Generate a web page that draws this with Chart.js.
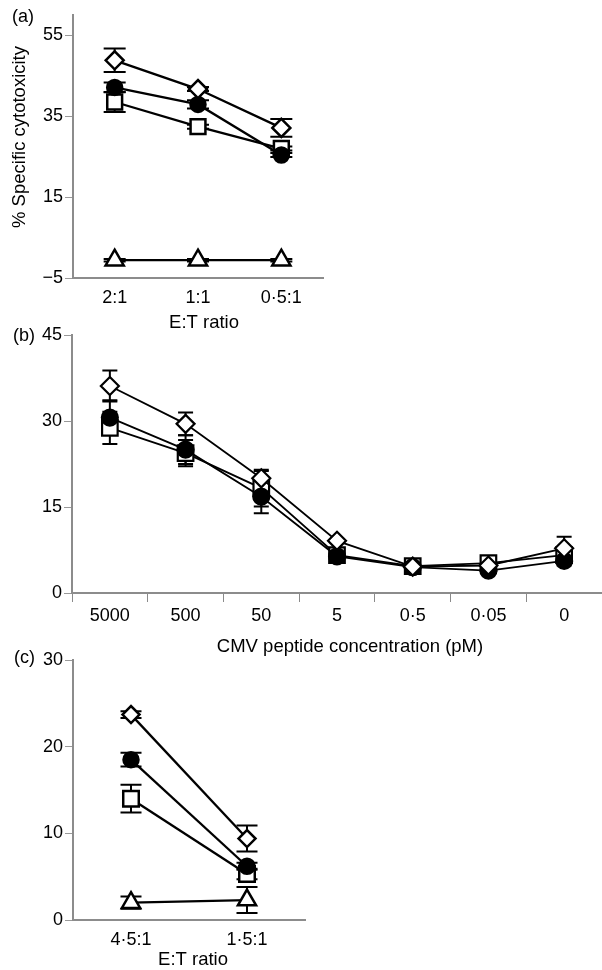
<!DOCTYPE html>
<html><head><meta charset="utf-8">
<script src="https://cdn.jsdelivr.net/npm/chart.js@4.4.1/dist/chart.umd.min.js"></script>
<style>
html,body{margin:0;padding:0;background:#fff;width:602px;height:970px;overflow:hidden;font-family:"Liberation Sans",Arial,sans-serif;}
canvas{position:absolute;}
.lab{position:absolute;font-size:18px;line-height:20px;color:#000;font-family:"Liberation Sans",Arial,sans-serif;}
</style></head><body>
<canvas id="ca" width="340" height="335" style="left:0;top:0"></canvas>
<canvas id="cb" width="602" height="345" style="left:0;top:320px"></canvas>
<canvas id="cc" width="340" height="330" style="left:0;top:640px"></canvas>
<div class="lab" style="left:12px;top:6px">(a)</div>
<div class="lab" style="left:13px;top:325px">(b)</div>
<div class="lab" style="left:14px;top:647px">(c)</div>
<script>
// ---------- Panel (a) ----------
const catsA = ['2:1', '1:1', '0·5:1'];
const yTicksA = [-5, 15, 35, 55];
const diamondA = [48.8, 41.7, 32.1];
const diamondErrA = [2.9, 0.5, 2.2];
const circleA = [42.1, 37.9, 25.4];
const circleErrA = [1.2, 1.0, 0.5];
const squareA = [38.5, 32.4, 27.0];
const squareErrA = [2.5, 0.5, 0.5];
const triangleA = [-0.6, -0.6, -0.6];
const triangleErrA = [0.3, 0.3, 0.3];

// ---------- Panel (b) ----------
const catsB = ['5000', '500', '50', '5', '0·5', '0·05', '0'];
const yTicksB = [0, 15, 30, 45];
const diamondB = [36.1, 29.5, 20.0, 9.1, 4.6, 4.8, 7.8];
const diamondErrB = [2.7, 2.0, 1.3, 0.3, 0.3, 0.3, 2.0];
const circleB = [30.6, 25.0, 16.8, 6.4, 4.5, 3.9, 5.6];
const circleErrB = [3.0, 2.5, 2.9, 0.5, 0.3, 0.3, 0.8];
const squareB = [28.8, 24.4, 18.3, 6.6, 4.7, 5.2, 6.6];
const squareErrB = [2.8, 2.3, 3.2, 0.5, 0.3, 0.3, 1.0];

// ---------- Panel (c) ----------
const catsC = ['4·5:1', '1·5:1'];
const yTicksC = [0, 10, 20, 30];
const diamondC = [23.7, 9.4];
const diamondErrC = [0.4, 1.5];
const circleC = [18.5, 6.2];
const circleErrC = [0.8, 0.4];
const squareC = [14.0, 5.3];
const squareErrC = [1.6, 0.6];
const triangleC = [2.0, 2.3];
const triangleErrC = [0.7, 1.5];

const FONT = '"Liberation Sans", Arial, sans-serif';

const errorBars = {
  id: 'errorBars',
  beforeDatasetsDraw(chart, args, opts) {
    const ctx = chart.ctx, ys = chart.scales.y;
    ctx.save();
    ctx.strokeStyle = '#000';
    ctx.lineWidth = opts.width || 2;
    chart.data.datasets.forEach((d, di) => {
      if (!d.errors) return;
      const meta = chart.getDatasetMeta(di);
      meta.data.forEach((pt, i) => {
        const e = d.errors[i];
        if (!e) return;
        const v = d.data[i];
        const y1 = ys.getPixelForValue(v + e), y2 = ys.getPixelForValue(v - e);
        const x = pt.x, c = opts.cap;
        ctx.beginPath();
        ctx.moveTo(x, y1); ctx.lineTo(x, y2);
        ctx.moveTo(x - c, y1); ctx.lineTo(x + c, y1);
        ctx.moveTo(x - c, y2); ctx.lineTo(x + c, y2);
        ctx.stroke();
      });
    });
    ctx.restore();
  }
};

const axisTitles = {
  id: 'axisTitles',
  afterDraw(chart, args, opts) {
    const ctx = chart.ctx;
    (opts.items || []).forEach(t => {
      ctx.save();
      ctx.font = t.size + 'px ' + FONT;
      ctx.fillStyle = '#000';
      ctx.textAlign = 'center';
      ctx.textBaseline = 'middle';
      ctx.translate(t.x, t.y);
      if (t.rot) ctx.rotate(t.rot);
      ctx.fillText(t.text, 0, 0);
      ctx.restore();
    });
  }
};

function ds(label, data, errors, style, radius, fill, lw, bw) {
  return {
    label, data, errors,
    pointStyle: style, pointRadius: radius, pointHoverRadius: radius,
    pointBackgroundColor: fill, pointBorderColor: '#000', pointBorderWidth: bw,
    borderColor: '#000', borderWidth: lw, fill: false, tension: 0
  };
}

const fmtTick = v => (v < 0 ? '\u2212' + Math.abs(v) : String(v));

function makeChart(id, cats, datasets, yMin, yMax, yTicks, cfg) {
  return new Chart(document.getElementById(id), {
    type: 'line',
    data: { labels: cats, datasets },
    options: {
      responsive: false, animation: false, events: [],
      layout: { padding: cfg.padding, autoPadding: false },
      plugins: {
        legend: { display: false }, tooltip: { enabled: false },
        errorBars: { cap: cfg.cap, width: 2 },
        axisTitles: { items: cfg.titles }
      },
      scales: {
        x: {
          type: 'category', offset: true,
          grid: { display: true, drawOnChartArea: false, drawTicks: cfg.xTicks, offset: true, tickLength: 9, color: '#8a8a8a', lineWidth: 1 },
          border: { display: true, color: '#8c8c8c', width: 2 },
          ticks: { font: { family: FONT, size: cfg.tickSize }, color: '#000', padding: cfg.xPad, maxRotation: 0, autoSkip: false },
          title: { display: false },
          afterFit: s => { s.height = cfg.xH; }
        },
        y: {
          min: yMin, max: yMax,
          afterBuildTicks: s => { s.ticks = yTicks.map(v => ({ value: v })); },
          grid: { display: true, drawOnChartArea: false, drawTicks: true, tickLength: 8, color: '#999', lineWidth: 1 },
          border: { display: true, color: '#8c8c8c', width: 2 },
          ticks: { font: { family: FONT, size: cfg.tickSize }, color: '#000', padding: 2, callback: fmtTick },
          title: { display: false },
          afterFit: s => { s.width = cfg.yW; }
        }
      }
    },
    plugins: [errorBars, axisTitles]
  });
}

makeChart('ca', catsA, [
  ds('diamond', diamondA, diamondErrA, 'rectRot', 9, '#fff', 2.3, 2.5),
  ds('circle', circleA, circleErrA, 'circle', 7.5, '#000', 2.3, 2.5),
  ds('square', squareA, squareErrA, 'rect', 10.5, '#fff', 2.3, 2.5),
  ds('triangle', triangleA, triangleErrA, 'triangle', 10.5, '#fff', 2.3, 2.5)
], -5, 60, yTicksA, {
  padding: { left: 0, top: 15, right: 17, bottom: 0 },
  cap: 11, xTicks: false, xPad: 9, xH: 57, yW: 73,
  tickSize: 18,
  titles: [
    { text: 'E:T ratio', x: 204, y: 323, size: 18.5 },
    { text: '% Specific cytotoxicity', x: 20, y: 137, size: 18.5, rot: -Math.PI / 2 }
  ]
});

makeChart('cb', catsB, [
  ds('diamond', diamondB, diamondErrB, 'rectRot', 9, '#fff', 1.8, 2.2),
  ds('circle', circleB, circleErrB, 'circle', 8, '#000', 1.8, 2.2),
  ds('square', squareB, squareErrB, 'rect', 11, '#fff', 1.8, 2.2)
], 0, 45, yTicksB, {
  padding: { left: 0, top: 15, right: 0, bottom: 0 },
  cap: 7.5, xTicks: true, xPad: 3, xH: 72, yW: 72,
  tickSize: 18,
  titles: [
    { text: 'CMV peptide concentration (pM)', x: 350, y: 326.5, size: 18.5 }
  ]
});

makeChart('cc', catsC, [
  ds('diamond', diamondC, diamondErrC, 'rectRot', 8.5, '#fff', 2.3, 2.5),
  ds('circle', circleC, circleErrC, 'circle', 7.5, '#000', 2.3, 2.5),
  ds('square', squareC, squareErrC, 'rect', 11, '#fff', 2.3, 2.5),
  ds('triangle', triangleC, triangleErrC, 'triangle', 10.5, '#fff', 2.3, 2.5)
], 0, 30, yTicksC, {
  padding: { left: 0, top: 20, right: 35, bottom: 0 },
  cap: 10.5, xTicks: false, xPad: 9, xH: 50, yW: 73,
  tickSize: 18,
  titles: [
    { text: 'E:T ratio', x: 193, y: 320, size: 18.5 }
  ]
});
</script>
</body></html>
